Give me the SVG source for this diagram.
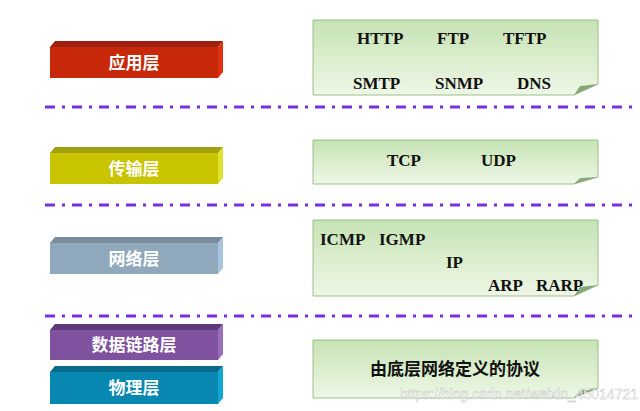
<svg xmlns="http://www.w3.org/2000/svg" width="640" height="411" viewBox="0 0 640 411">
<defs>
<linearGradient id="g" x1="0" y1="0" x2="0" y2="1"><stop offset="0" stop-color="#c6e3b4"/><stop offset="1" stop-color="#eef7e6"/></linearGradient>
<style>
.lbl{font-family:"Noto Sans CJK SC",sans-serif;font-weight:bold;font-size:17px;fill:#fff;text-anchor:middle}
.p{font-family:"Liberation Serif",serif;font-weight:bold;font-size:17px;fill:#111}
.c{font-family:"Noto Sans CJK SC",sans-serif;font-weight:bold;font-size:17px;fill:#111}
.note{fill:url(#g);stroke:#9cbf88;stroke-width:1}
.fold{fill:#8aa77c}
.dl{stroke:#7b2ee0;stroke-width:3;stroke-dasharray:10,7,3,7;fill:none}
</style>
</defs>
<rect width="640" height="411" fill="#fff"/>
<g id="connectors">
<line class="dl" x1="45" y1="107" x2="635" y2="107"/>
<line class="dl" x1="45" y1="205" x2="635" y2="205"/>
<line class="dl" x1="45" y1="316" x2="635" y2="316"/>
</g>
<g id="app">
<polygon points="50,47 55,41 223,41 218,47" fill="#a02010"/><polygon points="218,47 223,41 223,72 218,78" fill="#e03010"/>
<rect x="50" y="47" width="168" height="31" fill="#c8280a"/><text class="lbl" x="134" y="69">应用层</text>
</g>
<g id="transport">
<polygon points="50,153 55,147 223,147 218,153" fill="#a0a010"/><polygon points="218,153 223,147 223,178 218,184" fill="#e0e030"/>
<rect x="50" y="153" width="168" height="31" fill="#c8c400"/><text class="lbl" x="134" y="175">传输层</text>
</g>
<g id="network">
<polygon points="50,243 55,237 223,237 218,243" fill="#7a8c9c"/><polygon points="218,243 223,237 223,268 218,274" fill="#a8c4dc"/>
<rect x="50" y="243" width="168" height="31" fill="#8fa8bc"/><text class="lbl" x="134" y="265">网络层</text>
</g>
<g id="datalink">
<polygon points="50,330 55,324 223,324 218,330" fill="#5e3a7a"/><polygon points="218,330 223,324 223,354 218,360" fill="#9a6cbc"/>
<rect x="50" y="330" width="168" height="30" fill="#7e529e"/><text class="lbl" x="134" y="351">数据链路层</text>
</g>
<g id="physical">
<polygon points="50,372 55,366 223,366 218,372" fill="#0a6a8a"/><polygon points="218,372 223,366 223,398 218,404" fill="#10a8d0"/>
<rect x="50" y="372" width="168" height="32" fill="#0888b0"/><text class="lbl" x="134" y="394">物理层</text>
</g>
<g id="n-app">
<path class="note" d="M313,20 H598 V84 L574,95 H313 Z"/><path class="fold" d="M574,95 L598,84 L580,86 Z"/>
<text class="p" x="357" y="44">HTTP</text><text class="p" x="437" y="44">FTP</text><text class="p" x="503" y="44">TFTP</text>
<text class="p" x="353" y="89">SMTP</text><text class="p" x="435" y="89">SNMP</text><text class="p" x="517" y="89">DNS</text>
</g>
<g id="n-transport">
<path class="note" d="M313,140 H598 V177 L574,184 H313 Z"/><path class="fold" d="M574,184 L598,177 L580,178 Z"/>
<text class="p" x="387" y="166">TCP</text><text class="p" x="481" y="166">UDP</text>
</g>
<g id="n-network">
<path class="note" d="M313,220 H598 V285 L574,296 H313 Z"/><path class="fold" d="M574,296 L598,285 L580,287 Z"/>
<text class="p" x="320" y="245">ICMP</text><text class="p" x="379" y="245">IGMP</text><text class="p" x="446" y="268">IP</text>
<text class="p" x="488" y="291">ARP</text><text class="p" x="536" y="291">RARP</text>
</g>
<g id="n-link">
<path class="note" d="M313,340 H598 V388 L574,398 H313 Z"/><path class="fold" d="M574,398 L598,388 L580,390 Z"/>
<text class="c" x="455" y="375" text-anchor="middle">由底层网络定义的协议</text>
</g>
<text x="638" y="399" text-anchor="end" font-family="Liberation Sans,sans-serif" font-size="14" fill="#fff" stroke="#bbb" stroke-width="0.4">https://blog.csdn.net/weixin_45014721</text>
</svg>
